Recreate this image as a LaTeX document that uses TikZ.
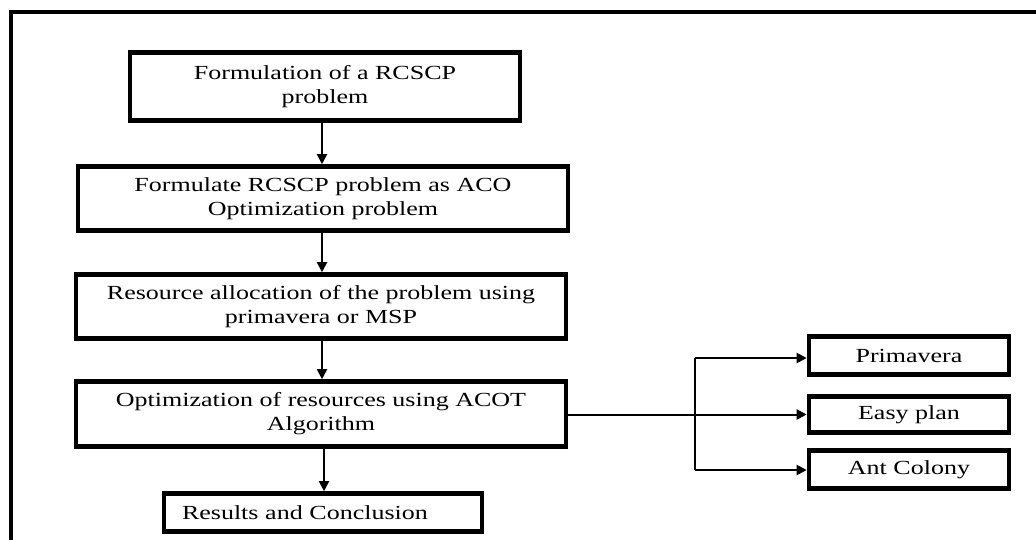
\documentclass[tikz,border=0pt]{standalone}
\usepackage{fontspec}
\setmainfont{Liberation Serif}[FakeStretch=1.3]
\usetikzlibrary{arrows.meta}
\begin{document}
\begin{tikzpicture}[x=1pt,y=-1pt,
  box/.style={draw, line width=4.6pt, align=center, inner sep=0pt,
    font=\fontsize{20}{24}\selectfont},
  conn/.style={line width=2pt, -{Triangle[length=10pt,width=10pt]}},
  plain/.style={line width=2pt}]
\useasboundingbox (0,0) rectangle (1036,540);
\draw[line width=4pt] (10.8,540) -- (10.8,12) -- (1036,12);
\node[box, minimum width=390pt, minimum height=68pt] (b1) at (325,86.5)
  {Formulation of a RCSCP\\problem};
\node[box, minimum width=490pt, minimum height=64pt] (b2) at (323,198.5)
  {Formulate RCSCP problem as ACO\\Optimization problem};
\node[box, minimum width=490pt, minimum height=64pt] (b3) at (321,306.5)
  {Resource allocation of the problem using\\primavera or MSP};
\node[box, minimum width=490pt, minimum height=65pt] (b4) at (321,414)
  {Optimization of resources using ACOT\\Algorithm};
\node[box, minimum width=318pt, minimum height=38pt, text width=282pt,
  align=left, inner xsep=18pt] (b5) at (323,512.5) {Results and Conclusion};
\node[box, minimum width=200pt, minimum height=38pt] (p) at (909,355.5) {Primavera};
\node[box, minimum width=200pt, minimum height=36pt] (e) at (909,414.5) {Easy plan};
\node[box, minimum width=200pt, minimum height=38pt] (a) at (909,469.5) {Ant Colony};
\draw[conn] (b1.south -| 322,0) -- (b2.north -| 322,0);
\draw[conn] (b2.south -| 322,0) -- (b3.north -| 322,0);
\draw[conn] (b3.south -| 322,0) -- (b4.north -| 322,0);
\draw[conn] (b4.south -| 324,0) -- (b5.north -| 324,0);
\coordinate (jt) at (695,358);
\coordinate (jb) at (695,470);
\draw[conn] (b4.east |- e.west) -- (e.west);
\draw[plain] (jt) -- (jb);
\draw[conn] (jt) -- (jt -| p.west);
\draw[conn] (jb) -- (jb -| a.west);
\end{tikzpicture}
\end{document}
